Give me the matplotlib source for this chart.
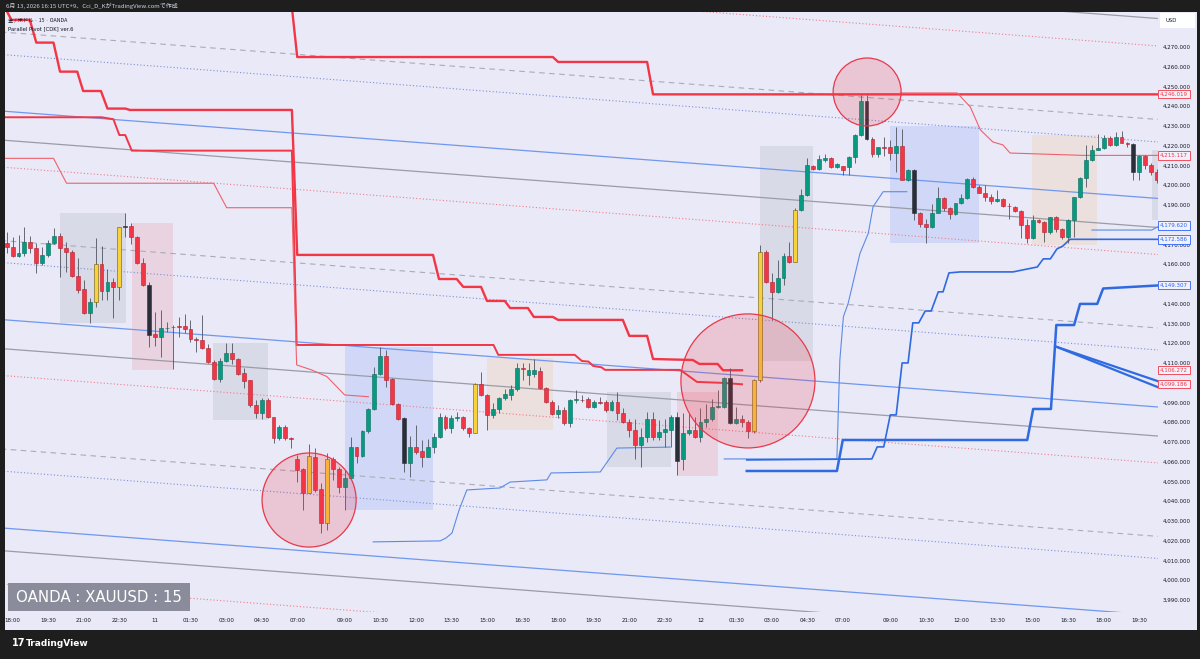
import numpy as np
import matplotlib
matplotlib.use('Agg')
import matplotlib.pyplot as plt
from matplotlib.patches import Rectangle, Ellipse

W, H = 1200, 659
JP = ['Noto Sans CJK JP', 'DejaVu Sans']

# ---- 15分足 (index 0 = 6/10 18:00) ----
first_bar = -1
opens = [4170.6, 4168.5, 4164.3, 4165.5, 4171.1, 4168.0, 4160.4, 4164.5, 4170.9, 4174.3,
         4168.0, 4166.3, 4154.0, 4147.3, 4135.5, 4141.0, 4160.1, 4146.6, 4151.2, 4148.6,
         4179.3, 4179.3, 4173.9, 4160.4, 4149.5, 4124.7, 4123.0, 4127.5, 4128.4, 4128.4,
         4128.7, 4127.0, 4122.0, 4121.6, 4117.4, 4110.6, 4101.7, 4111.1, 4115.2, 4111.8,
         4104.7, 4101.4, 4088.7, 4084.5, 4091.3, 4082.5, 4071.8, 4077.7, 4071.8, 4061.2,
         4056.1, 4044.3, 4062.6, 4046.0, 4029.1, 4061.2, 4056.2, 4047.0, 4051.6, 4067.3,
         4062.9, 4075.6, 4086.5, 4104.4, 4113.5, 4101.7, 4089.2, 4082.0, 4059.2, 4067.6,
         4065.6, 4062.6, 4067.3, 4072.3, 4082.5, 4076.9, 4082.0, 4082.5, 4076.9, 4074.7,
         4099.4, 4093.8, 4083.7, 4086.5, 4092.1, 4093.8, 4096.7, 4107.3, 4103.9, 4104.4,
         4106.1, 4097.2, 4090.4, 4084.1, 4086.2, 4079.4, 4091.2, 4091.2, 4091.6, 4087.8,
         4090.0, 4090.0, 4086.2, 4090.4, 4084.5, 4080.2, 4076.0, 4068.4, 4072.7, 4081.4,
         4072.7, 4075.1, 4076.0, 4082.8, 4061.2, 4074.4, 4076.0, 4072.7, 4080.2, 4081.4,
         4087.8, 4087.8, 4102.2, 4079.4, 4081.4, 4080.2, 4075.7, 4101.4, 4166.4, 4151.2,
         4146.1, 4152.9, 4164.2, 4161.3, 4187.5, 4195.1, 4209.8, 4208.1, 4212.8, 4213.6,
         4209.1, 4209.6, 4209.1, 4214.5, 4225.4, 4242.8, 4223.3, 4215.8, 4219.2, 4219.2,
         4216.1, 4219.9, 4202.7, 4207.7, 4186.1, 4180.4, 4178.7, 4186.1, 4193.4, 4188.3,
         4185.5, 4190.9, 4193.4, 4203.0, 4199.0, 4196.3, 4193.9, 4192.2, 4192.9, 4189.5,
         4188.8, 4187.1, 4179.9, 4173.1, 4182.4, 4181.6, 4176.5, 4183.8, 4177.7, 4173.6,
         4182.4, 4193.9, 4203.5, 4212.8, 4217.9, 4218.7, 4223.8, 4220.4, 4224.6, 4221.6,
         4220.9, 4206.9, 4214.8, 4210.3, 4206.9]
highs = [4176.1, 4173.6, 4174.8, 4179.0, 4174.3, 4170.6, 4168.9, 4172.3, 4178.2, 4175.6,
         4171.4, 4167.2, 4163.0, 4152.0, 4142.7, 4173.1, 4169.2, 4157.6, 4152.8, 4179.0,
         4185.7, 4180.7, 4174.3, 4163.0, 4151.2, 4136.0, 4136.8, 4130.9, 4129.2, 4133.1,
         4134.8, 4131.7, 4123.3, 4134.3, 4119.6, 4111.5, 4112.3, 4119.9, 4119.9, 4112.3,
         4107.3, 4101.5, 4091.3, 4092.1, 4092.1, 4082.7, 4078.6, 4078.6, 4072.7, 4063.4,
         4056.7, 4069.0, 4066.8, 4049.1, 4064.6, 4062.6, 4057.2, 4055.8, 4072.3, 4067.6,
         4076.1, 4087.0, 4108.1, 4117.9, 4116.6, 4102.2, 4089.6, 4082.5, 4073.0, 4078.6,
         4071.0, 4071.3, 4074.4, 4084.5, 4083.7, 4083.7, 4085.4, 4083.2, 4077.7, 4099.7,
         4105.6, 4094.3, 4089.9, 4092.9, 4096.7, 4098.9, 4109.8, 4109.8, 4109.8, 4111.8,
         4107.8, 4098.0, 4091.2, 4088.7, 4087.8, 4091.6, 4096.3, 4093.8, 4092.6, 4091.2,
         4092.9, 4091.2, 4091.2, 4095.4, 4087.0, 4081.4, 4081.4, 4076.9, 4085.3, 4085.3,
         4081.1, 4081.4, 4083.6, 4085.3, 4084.8, 4084.5, 4082.4, 4087.0, 4089.2, 4091.6,
         4096.3, 4103.0, 4107.3, 4087.8, 4083.6, 4081.1, 4101.7, 4169.8, 4167.2, 4155.4,
         4162.2, 4165.5, 4171.4, 4188.3, 4198.0, 4213.6, 4210.3, 4215.3, 4215.8, 4214.1,
         4211.3, 4209.8, 4214.8, 4226.0, 4245.7, 4245.7, 4224.3, 4219.5, 4224.3, 4222.9,
         4229.7, 4228.3, 4208.1, 4208.1, 4186.6, 4182.8, 4190.5, 4199.3, 4194.2, 4189.2,
         4191.2, 4195.6, 4203.5, 4204.0, 4200.1, 4200.1, 4195.6, 4197.6, 4193.4, 4191.2,
         4189.5, 4187.5, 4182.8, 4184.9, 4182.8, 4182.1, 4184.1, 4184.4, 4178.2, 4182.8,
         4194.2, 4204.4, 4220.4, 4220.4, 4226.0, 4225.4, 4224.9, 4227.1, 4227.6, 4222.1,
         4221.2, 4215.3, 4215.3, 4211.0, 4208.0]
lows = [4165.5, 4163.8, 4163.8, 4164.1, 4165.5, 4155.4, 4159.6, 4163.8, 4170.2, 4153.3,
        4156.2, 4153.7, 4145.2, 4134.8, 4130.4, 4138.5, 4141.9, 4141.9, 4132.6, 4141.9,
        4173.6, 4170.1, 4160.1, 4149.0, 4117.9, 4118.6, 4113.2, 4125.8, 4106.8, 4123.0,
        4125.3, 4120.8, 4115.7, 4116.9, 4109.8, 4101.4, 4100.5, 4110.6, 4109.5, 4103.9,
        4097.1, 4087.9, 4082.0, 4081.5, 4082.0, 4069.3, 4071.0, 4071.0, 4066.8, 4049.9,
        4035.6, 4044.0, 4044.8, 4024.1, 4025.4, 4050.7, 4044.0, 4035.6, 4051.1, 4059.2,
        4062.6, 4074.7, 4086.2, 4103.9, 4097.7, 4088.7, 4081.1, 4055.0, 4052.1, 4063.9,
        4057.2, 4062.2, 4064.6, 4071.8, 4076.1, 4074.4, 4080.8, 4076.1, 4072.7, 4074.4,
        4093.3, 4076.1, 4082.0, 4084.5, 4091.3, 4091.3, 4096.0, 4101.4, 4098.9, 4103.1,
        4096.7, 4089.9, 4083.6, 4081.9, 4078.6, 4077.4, 4089.5, 4090.4, 4087.0, 4087.0,
        4089.2, 4085.3, 4085.8, 4081.1, 4079.4, 4072.3, 4061.2, 4057.5, 4070.1, 4071.0,
        4071.0, 4067.3, 4067.3, 4053.2, 4055.8, 4073.5, 4071.8, 4070.1, 4077.4, 4080.8,
        4087.0, 4087.0, 4079.1, 4079.1, 4077.4, 4071.8, 4074.4, 4100.6, 4150.4, 4131.8,
        4145.3, 4149.5, 4160.8, 4161.3, 4187.1, 4194.6, 4207.7, 4207.7, 4211.9, 4208.6,
        4208.6, 4205.2, 4205.2, 4211.1, 4224.9, 4222.9, 4214.1, 4214.1, 4214.8, 4212.8,
        4206.9, 4202.6, 4202.3, 4182.4, 4179.0, 4170.9, 4178.2, 4185.8, 4187.1, 4182.8,
        4185.0, 4190.5, 4192.8, 4198.5, 4195.9, 4192.2, 4190.5, 4191.7, 4188.8, 4182.8,
        4186.6, 4173.1, 4170.6, 4172.6, 4180.7, 4171.4, 4175.3, 4176.5, 4172.6, 4170.6,
        4173.6, 4193.4, 4199.0, 4212.5, 4217.9, 4218.2, 4219.9, 4219.9, 4221.2, 4219.5,
        4202.7, 4202.7, 4208.1, 4205.0, 4201.0]
closes = [4168.5, 4164.3, 4165.8, 4171.1, 4168.0, 4160.4, 4164.5, 4170.9, 4174.3, 4168.0,
          4166.3, 4154.0, 4146.9, 4135.5, 4141.0, 4160.1, 4146.6, 4151.2, 4148.6, 4178.7,
          4178.7, 4173.9, 4160.4, 4149.5, 4124.1, 4123.0, 4127.5, 4127.9, 4128.0, 4128.1,
          4127.0, 4122.0, 4121.8, 4117.4, 4110.6, 4101.7, 4111.1, 4115.2, 4111.8, 4104.4,
          4101.0, 4088.7, 4084.5, 4091.3, 4082.5, 4071.8, 4077.7, 4071.8, 4071.5, 4055.8,
          4044.3, 4062.9, 4045.7, 4029.1, 4061.2, 4056.2, 4047.0, 4051.6, 4067.3, 4062.9,
          4075.6, 4086.5, 4104.4, 4113.5, 4101.4, 4089.2, 4081.5, 4059.2, 4067.6, 4065.1,
          4062.6, 4067.3, 4072.3, 4082.5, 4076.9, 4082.0, 4082.4, 4076.9, 4074.7, 4099.4,
          4093.8, 4083.7, 4086.5, 4092.1, 4094.3, 4096.7, 4107.3, 4106.8, 4106.4, 4106.4,
          4097.2, 4090.4, 4084.1, 4086.2, 4079.4, 4091.2, 4091.4, 4091.0, 4087.8, 4090.0,
          4089.8, 4086.2, 4090.4, 4084.5, 4080.2, 4076.0, 4068.4, 4072.7, 4081.4, 4072.7,
          4075.2, 4076.4, 4082.8, 4060.5, 4074.4, 4076.0, 4072.7, 4080.2, 4081.4, 4087.8,
          4088.0, 4102.2, 4079.4, 4081.4, 4080.1, 4075.7, 4101.3, 4166.4, 4151.2, 4146.1,
          4152.9, 4164.2, 4161.3, 4187.5, 4195.1, 4210.3, 4208.1, 4213.1, 4213.6, 4209.1,
          4210.8, 4207.7, 4214.5, 4225.4, 4242.8, 4223.3, 4215.8, 4219.2, 4218.9, 4216.5,
          4219.9, 4202.7, 4207.7, 4186.1, 4180.4, 4178.7, 4186.1, 4193.4, 4188.3, 4185.5,
          4190.9, 4193.4, 4203.0, 4199.0, 4196.3, 4193.9, 4192.2, 4192.9, 4189.5, 4189.3,
          4187.1, 4179.9, 4173.1, 4182.4, 4181.4, 4176.5, 4183.8, 4177.7, 4173.6, 4182.4,
          4193.9, 4203.5, 4212.8, 4217.9, 4219.0, 4223.8, 4220.4, 4224.6, 4221.6, 4220.9,
          4206.9, 4214.8, 4210.3, 4206.9, 4202.7]
yellow_bars = [14, 18, 50, 53, 78, 125, 126, 132]
black_bars = [19, 23, 66, 112, 121, 144, 152, 189]

# 時間軸ラベル
tick_bars = [0, 6, 12, 18, 24, 30, 36, 42, 48, 56, 62, 68, 74, 80, 86, 92,
             98, 104, 110, 116, 122, 128, 134, 140, 148, 154, 160, 166, 172, 178, 184, 190]
tick_labels = ['18:00', '19:30', '21:00', '22:30', '11', '01:30', '03:00', '04:30', '07:00',
               '09:00', '10:30', '12:00', '13:30', '15:00', '16:30', '18:00', '19:30', '21:00',
               '22:30', '12', '01:30', '03:00', '04:30', '07:00', '09:00', '10:30', '12:00',
               '13:30', '15:00', '16:30', '18:00', '19:30']

# 価格軸 (タグに隠れる目盛は表示しない)
price_ticks = list(range(3990, 4271, 10))
hidden_ticks = [4180, 4150, 4100]

# 平行チャネル (左端 bar -2 / 右端 bar 194 の価格)
chan_x = [-2, 194]
blue_l = [4343.2, 4237.6, 4132.0, 4026.5]
blue_r = [4298.7, 4193.1, 4087.5, 3982.0]
grey_l = [4328.7, 4222.9, 4117.3, 4015.0]
grey_r = [4284.2, 4178.4, 4072.8, 3970.5]
pdot_l = [4314.8, 4209.2, 4103.7, 3998.1]
pdot_r = [4270.3, 4164.7, 4059.2, 3953.6]
dash_l = [4277.6, 4172.0, 4066.5]
dash_r = [4233.1, 4127.5, 4022.0]
bdot_l = [4266.2, 4160.9, 4055.3]
bdot_r = [4221.7, 4116.4, 4010.8]

# Parallel Pivot レジスタンス
r_top_x = [47.1, 48.0, 91.1, 92.0, 107.0, 108.0, 193.5]
r_top_y = [4290, 4264.9, 4264.9, 4262.4, 4262.4, 4246.0, 4246.0]
r1_x = [-1.3, -0.2, 2.9, 4.0, 6.9, 8.0, 10.9, 11.9, 14.9, 16.0, 19.0, 19.8, 47.1, 48.0,
        70.9, 71.9, 74.9, 76.0, 79.0, 80.0, 83.0, 83.9, 86.9, 87.9, 91.1, 92.0, 102.9, 104.0,
        107.0, 108.0, 114.7, 115.8, 118.9, 119.8, 123.0]
r1_y = [4290, 4283.7, 4283.7, 4272.2, 4272.2, 4257.5, 4257.5, 4247.7, 4247.7, 4238.8,
        4238.8, 4238.1, 4238.1, 4164.7, 4164.7, 4152.5, 4152.5, 4148.5, 4148.5, 4141.4,
        4141.4, 4137.8, 4137.8, 4133.3, 4133.3, 4131.8, 4131.8, 4123.7, 4123.7, 4112.0,
        4111.5, 4109.5, 4109.5, 4106.3, 4106.3]
r2_x = [-1.3, 15.0, 17.0, 18.0, 19.0, 20.1, 47.1, 47.9, 81.1, 81.9, 94.8, 96.0, 97.1, 97.9,
        99.3, 99.9, 112.5, 113.1, 115.4, 119.8, 123.0]
r2_y = [4234.4, 4234.4, 4233.4, 4225.4, 4225.4, 4217.5, 4217.5, 4119.1, 4119.1, 4114.1,
        4114.1, 4111.0, 4110.7, 4108.5, 4107.8, 4106.5, 4106.5, 4105.4, 4100.4, 4099.9, 4099.2]
r3_x = [-1.3, 6.9, 9.1, 33.9, 36.1, 47.1, 47.9, 50.4, 53.0, 56.0, 60.0]
r3_y = [4213.6, 4213.6, 4201.0, 4201.0, 4188.6, 4188.6, 4109.0, 4106.5, 4103.1, 4093.8, 4092.9]
r4_x = [149.7, 159.3, 161.5, 163.2, 165.3, 167.0, 168.2, 180.5, 193.5]
r4_y = [4246.7, 4246.7, 4239.6, 4228.0, 4221.9, 4220.4, 4216.3, 4215.1, 4215.1]

# Parallel Pivot サポート
s1_x = [60.8, 72.1, 73.1, 74.1, 75.3, 76.6, 82.2, 83.9, 90.1, 90.8, 99.1, 101.9, 110.9]
s1_y = [4019.4, 4019.9, 4021.4, 4023.9, 4035.6, 4045.7, 4046.7, 4049.7, 4050.8, 4054.3,
        4054.8, 4066.9, 4067.4]
s2_x = [120.0, 139.0, 139.5, 140.1, 140.9, 142.9, 144.3, 145.1, 146.8, 150.8]
s2_y = [4061.4, 4061.4, 4111.5, 4133.4, 4140.2, 4165.5, 4175.7, 4189.1, 4196.7, 4196.7]
s3_x = [123.8, 144.9, 145.8, 146.9, 148.0, 149.0, 150.0, 151.0, 151.8, 152.8, 153.9, 154.9,
        156.1, 156.9, 157.9, 159.8, 168.7, 172.8, 173.8, 175.0, 176.1, 177.1, 178.3, 193.5]
s3_y = [4060.9, 4061.4, 4067.5, 4067.5, 4083.7, 4083.7, 4110.0, 4110.0, 4130.3, 4130.3,
        4136.3, 4136.3, 4146.0, 4146.0, 4155.6, 4156.1, 4156.1, 4158.6, 4162.7, 4162.7,
        4167.7, 4169.2, 4172.6, 4172.6]
s4_x = [123.8, 139.0, 140.0, 171.1, 172.1, 175.1, 176.0, 179.0, 180.0, 182.9, 183.9, 193.5]
s4_y = [4055.3, 4055.3, 4071.0, 4071.0, 4086.7, 4086.7, 4129.2, 4129.2, 4139.9, 4139.9,
        4147.7, 4149.3]
s5_x = [182.0, 192.1, 193.5]
s5_y = [4177.3, 4177.3, 4179.6]
diag_x = [176.1, 193.5]
diag_y1 = [4118.1, 4097.3]
diag_y2 = [4118.1, 4100.4]

# セッションボックス: 左bar, 右bar, 上値, 下値, 色
box_left = [8.0, 20.1, 33.8, 56.1, 80.0, 100.2, 112.0, 126.0, 148.0, 171.9, 192.1]
box_right = [19.1, 27.1, 43.1, 70.9, 91.1, 111.0, 119.0, 135.0, 163.0, 182.9, 193.5]
box_top = [4186.0, 4180.9, 4120.1, 4118.1, 4112.5, 4095.3, 4095.3, 4219.9, 4230.0, 4225.4, 4217.8]
box_bot = [4130.3, 4106.5, 4081.1, 4035.6, 4076.1, 4057.3, 4052.8, 4111.0, 4170.8, 4169.7, 4182.4]
box_kind = ['grey', 'pink', 'grey', 'blue', 'beige', 'grey', 'pink', 'grey', 'blue', 'beige', 'grey']

# 丸印
circ_bar = [50.0, 124.0, 144.1]
circ_price = [4040.6, 4100.9, 4247.2]
circ_r = [7.93, 11.3, 5.73]  # 横方向の半径 (bar)

# 右軸のラベル
tag_vals = [4246.019, 4215.117, 4179.620, 4172.586, 4149.307, 4106.272, 4099.186]
tag_side = ['r', 'r', 'b', 'b', 'b', 'r', 'r']

BG = '#e9e9f7'
RED = '#f23645'
GREEN = '#089981'
BLUE = '#2f6ae0'

fig = plt.figure(figsize=(W / 100, H / 100), dpi=100, facecolor='#1e1e1e')
fig.add_artist(Rectangle((5 / W, 1 - 630 / H), 1192 / W, 618 / H, transform=fig.transFigure,
                         facecolor=BG, edgecolor='none', zorder=-1))
ax = fig.add_axes([5 / W, 1 - 612 / H, 1153 / W, 600 / H])
ax.set_facecolor(BG)
xmin, xmax = -1.28, 193.15
ymin, ymax = 3983.9, 4287.7
ax.set_xlim(xmin, xmax)
ax.set_ylim(ymin, ymax)
for s in ax.spines.values():
    s.set_visible(False)

ax.yaxis.tick_right()
ax.set_yticks(price_ticks)
ax.set_yticklabels(['' if v in hidden_ticks else f'{v:,.3f}' for v in price_ticks])
ax.tick_params(axis='y', length=0, pad=3.5, labelsize=4, colors='#131722')
ax.set_xticks(tick_bars)
ax.set_xticklabels(tick_labels)
ax.tick_params(axis='x', length=0, pad=4.5, labelsize=4, colors='#131722')

# ボックス
box_style = {'grey': ('#9598a1', 0.18), 'pink': (RED, 0.12),
             'blue': ('#2962ff', 0.12), 'beige': ('#ff9800', 0.1)}
for l, r, t, b, k in zip(box_left, box_right, box_top, box_bot, box_kind):
    c, a = box_style[k]
    ax.add_patch(Rectangle((l, b), r - l, t - b, facecolor=c, alpha=a, edgecolor='none', zorder=1))

# チャネル
for yl, yr in zip(blue_l, blue_r):
    ax.plot(chan_x, [yl, yr], color='#6f98ee', lw=0.9, zorder=2)
for yl, yr in zip(grey_l, grey_r):
    ax.plot(chan_x, [yl, yr], color='#9a9ca6', lw=0.9, zorder=2)
for yl, yr in zip(pdot_l, pdot_r):
    ax.plot(chan_x, [yl, yr], color='#f27b86', lw=0.8, ls=(0, (1, 2)), zorder=2)
for yl, yr in zip(dash_l, dash_r):
    ax.plot(chan_x, [yl, yr], color='#a9acb6', lw=0.8, ls=(0, (5, 4)), zorder=2)
for yl, yr in zip(bdot_l, bdot_r):
    ax.plot(chan_x, [yl, yr], color='#7d8fd8', lw=0.8, ls=(0, (1, 2)), zorder=2)

# ピボットライン
ax.plot(r_top_x, r_top_y, color=RED, lw=1.7, zorder=3)
ax.plot(r1_x, r1_y, color=RED, lw=1.7, zorder=3)
ax.plot(r2_x, r2_y, color=RED, lw=1.4, zorder=3)
ax.plot(r3_x, r3_y, color='#f0616c', lw=0.8, zorder=3)
ax.plot(r4_x, r4_y, color='#f0616c', lw=0.8, zorder=3)
ax.plot(s1_x, s1_y, color='#5c8be6', lw=0.8, zorder=3)
ax.plot(s2_x, s2_y, color='#5c8be6', lw=0.8, zorder=3)
ax.plot(s3_x, s3_y, color=BLUE, lw=1.2, zorder=3)
ax.plot(s4_x, s4_y, color=BLUE, lw=1.8, zorder=3)
ax.plot(s5_x, s5_y, color='#5c8be6', lw=0.8, zorder=3)
ax.plot(diag_x, diag_y1, color=BLUE, lw=1.6, zorder=3)
ax.plot(diag_x, diag_y2, color=BLUE, lw=1.6, zorder=3)

# ローソク足
x = np.arange(first_bar, first_bar + len(opens))
o = np.array(opens); h = np.array(highs); l = np.array(lows); c = np.array(closes)
face, edge = [], []
for i, xi in enumerate(x):
    if xi in yellow_bars:
        face.append('#f7d23a'); edge.append('#6b5a10')
    elif xi in black_bars:
        face.append('#2a2e39'); edge.append('#2a2e39')
    elif c[i] >= o[i]:
        face.append(GREEN); edge.append('#066d5c')
    else:
        face.append(RED); edge.append('#b3222f')
ax.vlines(x, l, h, color='#50535e', lw=0.6, zorder=4)
ax.bar(x, np.maximum(np.abs(c - o), 0.4), bottom=np.minimum(o, c), width=0.66,
       color=face, edgecolor=edge, linewidth=0.4, zorder=5)

# 丸印 (画面上で真円になるよう縦横比を補正)
px_bar = 1153 / (xmax - xmin)
px_price = 600 / (ymax - ymin)
for cb, cp, cr in zip(circ_bar, circ_price, circ_r):
    ax.add_patch(Ellipse((cb, cp), 2 * cr, 2 * cr * px_bar / px_price, facecolor=RED,
                         alpha=0.2, edgecolor='none', zorder=6))
    ax.add_patch(Ellipse((cb, cp), 2 * cr, 2 * cr * px_bar / px_price, facecolor='none',
                         edgecolor='#e8394a', lw=0.9, zorder=6))

# 価格タグ
for v, sd in zip(tag_vals, tag_side):
    col = RED if sd == 'r' else '#2962ff'
    ax.text(1.0017, v, f'{v:,.3f}', transform=ax.get_yaxis_transform(), fontsize=4,
            color=col, va='center', ha='left', clip_on=False, zorder=10,
            bbox=dict(boxstyle='square,pad=0.3', facecolor='#f1f1fb', edgecolor=col, lw=0.6))

# USD
fig.add_artist(Rectangle((1160 / W, 1 - 28 / H), 35 / W, 15 / H, transform=fig.transFigure,
                         facecolor='white', edgecolor='none', zorder=3))
fig.text(1165 / W, 1 - 20.5 / H, 'USD', fontsize=3.8, color='#131722', va='center', zorder=4)

# ヘッダー・凡例
fig.text(6 / W, 1 - 6 / H, '6月 13, 2026 16:15 UTC+9、Cci_D_KがTradingView.comで作成',
         fontsize=4.3, color='#d1d4dc', va='center', family=JP)
fig.text(8 / W, 1 - 20 / H, '金 / 米ドル · 15 · OANDA', fontsize=3.8, color='#131722',
         va='center', family=JP)
fig.text(8 / W, 1 - 28.5 / H, 'Parallel Pivot [CDK] ver.6', fontsize=3.8, color='#131722',
         va='center')

# 左下のシンボル表示
fig.add_artist(Rectangle((8 / W, 1 - 611 / H), 182 / W, 28 / H, transform=fig.transFigure,
                         facecolor='#8a8c9c', edgecolor='none', zorder=3))
fig.text(99 / W, 1 - 597.5 / H, 'OANDA : XAUUSD : 15', fontsize=10.8, color='white',
         ha='center', va='center', zorder=4)

# TradingView ロゴ
fig.text(12 / W, 1 - 643 / H, '17', fontsize=7, color='white', weight='bold', va='center')
fig.text(26 / W, 1 - 643 / H, 'TradingView', fontsize=6.5, color='white', weight='bold',
         va='center')

fig.savefig('out.png', dpi=100, facecolor=fig.get_facecolor())
